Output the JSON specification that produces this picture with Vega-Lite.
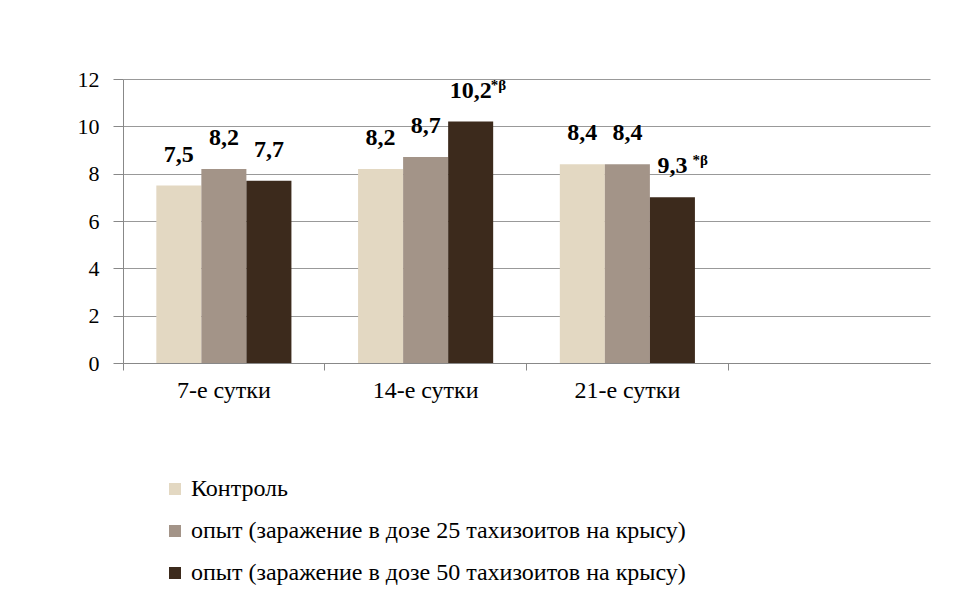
{
  "$schema": "https://vega.github.io/schema/vega-lite/v6.json",
  "autosize": "none",
  "width": 807,
  "height": 284,
  "padding": {"left": 123, "top": 79, "right": 44, "bottom": 234},
  "background": "white",
  "config": {
    "view": {"stroke": null},
    "font": "Liberation Serif"
  },
  "data": {
    "values": [
      {"day": "7-е сутки", "group": "Контроль", "value": 7.5, "lab": "7,5", "sup": ""},
      {"day": "7-е сутки", "group": "опыт (заражение в дозе 25 тахизоитов на крысу)", "value": 8.2, "lab": "8,2", "sup": ""},
      {"day": "7-е сутки", "group": "опыт (заражение в дозе 50 тахизоитов на крысу)", "value": 7.7, "lab": "7,7", "sup": ""},
      {"day": "14-е сутки", "group": "Контроль", "value": 8.2, "lab": "8,2", "sup": ""},
      {"day": "14-е сутки", "group": "опыт (заражение в дозе 25 тахизоитов на крысу)", "value": 8.7, "lab": "8,7", "sup": ""},
      {"day": "14-е сутки", "group": "опыт (заражение в дозе 50 тахизоитов на крысу)", "value": 10.2, "lab": "10,2", "sup": "*β"},
      {"day": "21-е сутки", "group": "Контроль", "value": 8.4, "lab": "8,4", "sup": ""},
      {"day": "21-е сутки", "group": "опыт (заражение в дозе 25 тахизоитов на крысу)", "value": 8.4, "lab": "8,4", "sup": ""},
      {"day": "21-е сутки", "group": "опыт (заражение в дозе 50 тахизоитов на крысу)", "value": 7.0, "lab": "9,3", "sup": "*β"}
    ]
  },
  "encoding": {
    "x": {
      "field": "day",
      "type": "nominal",
      "scale": {"domain": ["7-е сутки", "14-е сутки", "21-е сутки", " "], "paddingInner": 0, "paddingOuter": 0},
      "axis": {
        "title": null,
        "labelAngle": 0,
        "bandPosition": 0,
        "labelFont": "Liberation Serif",
        "labelFontSize": 24,
        "labelColor": "#000000",
        "labelPadding": 8,
        "tickSize": 7,
        "tickColor": "#888888",
        "domainColor": "#888888",
        "grid": false
      }
    },
    "xOffset": {
      "field": "group",
      "type": "nominal",
      "sort": ["Контроль", "опыт (заражение в дозе 25 тахизоитов на крысу)", "опыт (заражение в дозе 50 тахизоитов на крысу)"],
      "scale": {"paddingOuter": 0.74, "paddingInner": 0}
    },
    "y": {
      "field": "value",
      "type": "quantitative",
      "scale": {"domain": [0, 12], "nice": false},
      "axis": {
        "title": null,
        "values": [0, 2, 4, 6, 8, 10, 12],
        "labelFont": "Liberation Serif",
        "labelFontSize": 22,
        "labelColor": "#000000",
        "labelPadding": 14,
        "tickSize": 10,
        "tickColor": "#888888",
        "domainColor": "#888888",
        "gridColor": "#999999",
        "grid": true
      }
    }
  },
  "layer": [
    {
      "mark": {"type": "bar"},
      "encoding": {
        "color": {
          "field": "group",
          "type": "nominal",
          "sort": ["Контроль", "опыт (заражение в дозе 25 тахизоитов на крысу)", "опыт (заражение в дозе 50 тахизоитов на крысу)"],
          "scale": {"range": ["#e3d8c2", "#a39488", "#3c2a1c"]},
          "legend": {
            "title": null,
            "orient": "none",
            "legendX": 40,
            "legendY": 398,
            "direction": "vertical",
            "symbolType": "square",
            "symbolSize": 144,
            "symbolStrokeWidth": 0,
            "labelFont": "Liberation Serif",
            "labelFontSize": 24,
            "labelColor": "#000000",
            "labelLimit": 700,
            "labelOffset": 4,
            "rowPadding": 18,
            "padding": 0
          }
        }
      }
    },
    {
      "mark": {"type": "text", "font": "Liberation Serif", "fontSize": 24, "fontWeight": "bold", "baseline": "alphabetic", "dy": -24, "color": "#000000"},
      "encoding": {"text": {"field": "lab"}}
    },
    {
      "transform": [{"filter": "datum.sup != ''"}],
      "mark": {"type": "text", "font": "Liberation Serif", "fontSize": 15, "fontWeight": "bold", "baseline": "alphabetic", "align": "left", "dx": 20, "dy": -32, "color": "#000000"},
      "encoding": {"text": {"field": "sup"}}
    }
  ]
}
